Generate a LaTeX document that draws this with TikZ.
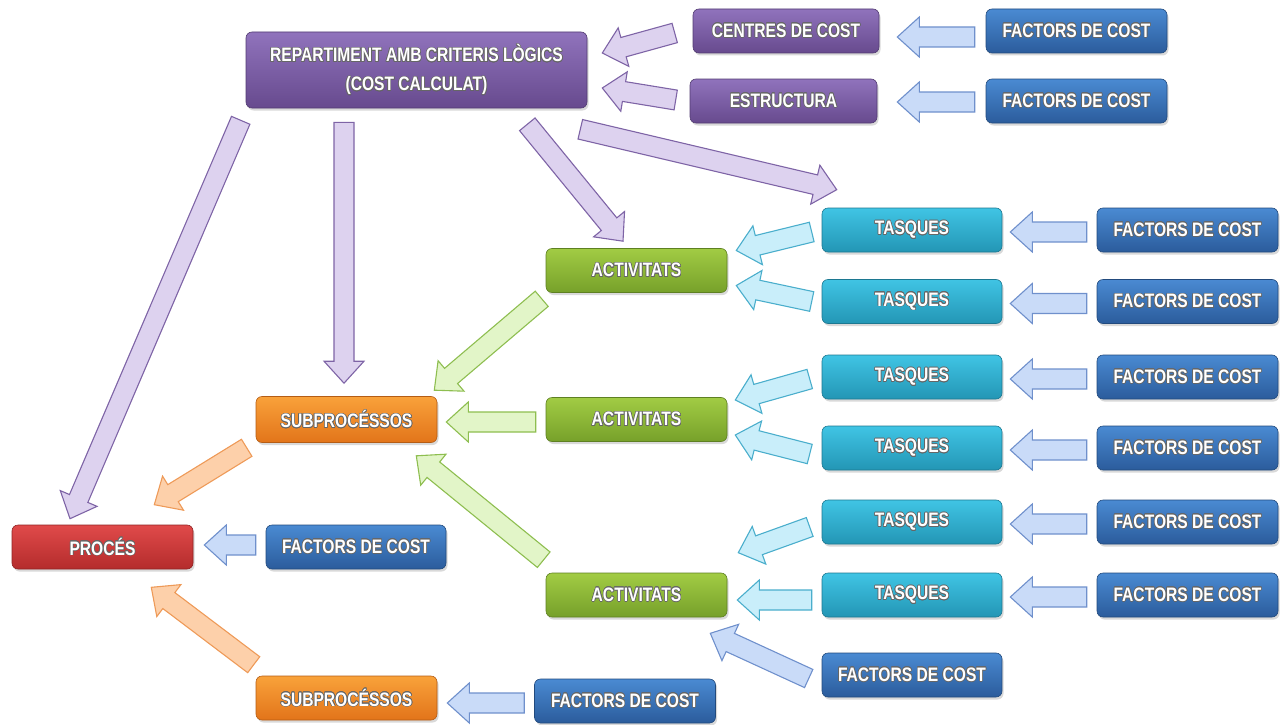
\documentclass[tikz,border=0pt]{standalone}
\usepackage{fontspec}
\setmainfont[FakeStretch=0.8]{Liberation Sans}
\usepackage[copies]{contour}
\contourlength{0.6pt}
\usetikzlibrary{calc,shadows}
\definecolor{purT}{HTML}{9073BC}
\definecolor{purB}{HTML}{674A8E}
\definecolor{bluT}{HTML}{4A8AD2}
\definecolor{bluB}{HTML}{2B5C9C}
\definecolor{cyaT}{HTML}{40C4E4}
\definecolor{cyaB}{HTML}{2396B5}
\definecolor{greT}{HTML}{A2CC44}
\definecolor{greB}{HTML}{76A02A}
\definecolor{oraT}{HTML}{F9A23A}
\definecolor{oraB}{HTML}{E2741A}
\definecolor{redT}{HTML}{E04A4A}
\definecolor{redB}{HTML}{B42C2C}
\definecolor{parF}{HTML}{DDD2EF}
\definecolor{parD}{HTML}{7E64A6}
\definecolor{barF}{HTML}{C9DBF8}
\definecolor{barD}{HTML}{6F90CC}
\definecolor{carF}{HTML}{C9EEFA}
\definecolor{carD}{HTML}{4AAECC}
\definecolor{garF}{HTML}{E2F5C8}
\definecolor{garD}{HTML}{8EBE50}
\definecolor{oarF}{HTML}{FDD0AA}
\definecolor{oarD}{HTML}{EE9A58}
\newcommand\boxfont{\fontsize{19.5}{29}\selectfont\bfseries}
\newcommand\tx[1]{\contour{black!60}{#1}}
\newcommand\barrow[3]{%
  \coordinate (bA) at #2;
  \coordinate (bB) at #3;
  \coordinate (bP) at ($(bB)!22pt!(bA)$);
  \draw[#1] ($(bA)!10pt!90:(bB)$) -- ($(bP)!10pt!90:(bB)$) -- ($(bP)!20pt!90:(bB)$)
    -- (bB) -- ($(bP)!20pt!-90:(bB)$) -- ($(bP)!10pt!-90:(bB)$) -- ($(bA)!10pt!-90:(bB)$) -- cycle;
}
\tikzset{
  box/.style={rectangle, rounded corners=6pt, minimum width=181pt, minimum height=44pt,
    inner sep=0pt, text=white, font=\boxfont, line width=0.6pt,
    drop shadow={shadow xshift=1.5pt, shadow yshift=-2.5pt, opacity=0.3}},
  pbox/.style={box, top color=purT, bottom color=purB, draw=purB!80!black},
  bbox/.style={box, top color=bluT, bottom color=bluB, draw=bluB!80!black},
  cbox/.style={box, top color=cyaT, bottom color=cyaB, draw=cyaB!80!black},
  gbox/.style={box, top color=greT, bottom color=greB, draw=greB!80!black},
  obox/.style={box, top color=oraT, bottom color=oraB, draw=oraB!80!black},
  rbox/.style={box, top color=redT, bottom color=redB, draw=redB!80!black},
  arr/.style={line width=1.1pt, line join=miter},
  parr/.style={arr, fill=parF, draw=parD},
  barr/.style={arr, fill=barF, draw=barD},
  carr/.style={arr, fill=carF, draw=carD},
  garr/.style={arr, fill=garF, draw=garD},
  oarr/.style={arr, fill=oarF, draw=oarD},
}
\begin{document}
\begin{tikzpicture}[x=1pt,y=-1pt]
\useasboundingbox (0,0) rectangle (1282,725);
% top block
\node[pbox, minimum width=341pt, minimum height=76pt, align=center] (rep) at (416.5,70)
  {\tx{REPARTIMENT AMB CRITERIS LÒGICS}\\\tx{(COST CALCULAT)}};
\node[pbox, minimum width=186pt] (cc) at (786,31) {\tx{CENTRES DE COST}};
\node[pbox, minimum width=187pt] (es) at (783.5,101) {\tx{ESTRUCTURA}};
\node[bbox] (ft1) at (1076.5,31) {\tx{FACTORS DE COST}};
\node[bbox] (ft2) at (1076.5,101) {\tx{FACTORS DE COST}};
% task rows
\foreach \i/\y in {1/230,2/301.5,3/377,4/448,5/522,6/595}{
  \node[cbox, minimum width=180pt] (t\i) at (912,\y) {\tx{TASQUES}};
  \node[bbox] (f\i) at (1187.5,\y) {\tx{FACTORS DE COST}};
}
% activities
\node[gbox] (a1) at (636.5,270.5) {\tx{ACTIVITATS}};
\node[gbox] (a2) at (636.5,419.5) {\tx{ACTIVITATS}};
\node[gbox] (a3) at (636.5,595) {\tx{ACTIVITATS}};
\node[bbox, minimum width=180pt] (fa) at (912,675) {\tx{FACTORS DE COST}};
% subprocesses and process
\node[obox, minimum height=46pt] (s1) at (346.5,419.5) {\tx{SUBPROCÉSSOS}};
\node[obox] (s2) at (346.5,698) {\tx{SUBPROCÉSSOS}};
\node[rbox] (p) at (102.5,547) {\tx{PROCÉS}};
\node[bbox, minimum width=180pt] (fp) at (356,547) {\tx{FACTORS DE COST}};
\node[bbox, minimum width=181pt] (fb) at (625,701) {\tx{FACTORS DE COST}};
% arrows top
\barrow{barr}{($(ft1.west)+(-11,6)$)}{($(cc.east)+(18,6)$)}
\barrow{barr}{($(ft2.west)+(-11,1)$)}{($(es.east)+(20,1)$)}
\barrow{parr}{($(cc.west)+(-18,2)$)}{($(rep.east)+(15,-17)$)}
\barrow{parr}{($(es.west)+(-14,-1)$)}{($(rep.east)+(15,18)$)}
\barrow{parr}{($(rep.south west)+(-5,12)$)}{($(p.north)+(-32.5,-6)$)}
\barrow{parr}{($(rep.south)+(-72.5,14)$)}{($(s1.north)+(-2.5,-13)$)}
\barrow{parr}{($(rep.south east)+(-60,16)$)}{($(a1.north)+(-13.5,-7)$)}
\barrow{parr}{($(rep.south east)+(-7,21)$)}{($(t1.north west)+(15,-18)$)}
% factors -> tasks
\foreach \i in {1,...,6}{
  \barrow{barr}{($(f\i.west)+(-10,2)$)}{($(t\i.east)+(8,2)$)}
}
% tasks -> activities
\barrow{carr}{($(t1.west)+(-10,2)$)}{($(a1.east)+(9,-20)$)}
\barrow{carr}{($(t2.west)+(-10,0)$)}{($(a1.east)+(9,15)$)}
\barrow{carr}{($(t3.west)+(-12,2)$)}{($(a2.east)+(8,-19.5)$)}
\barrow{carr}{($(t4.west)+(-12,6)$)}{($(a2.east)+(8,15.5)$)}
\barrow{carr}{($(t5.west)+(-12,5)$)}{($(a3.north east)+(11,-20)$)}
\barrow{carr}{($(t6.west)+(-10,5)$)}{($(a3.east)+(10,5)$)}
\barrow{barr}{($(fa.west)+(-13,3.5)$)}{($(a3.south east)+(-17,16)$)}
% activities -> subprocess
\barrow{garr}{($(a1.south west)+(-4,6)$)}{($(s1.north east)+(-3,-6)$)}
\barrow{garr}{($(a2.west)+(-10,2.5)$)}{($(s1.east)+(9,2.5)$)}
\barrow{garr}{($(a3.north west)+(-2,-13)$)}{($(s1.south east)+(-21,13)$)}
% to process
\barrow{oarr}{($(s1.south west)+(-9,5)$)}{($(p.north east)+(-39,-20)$)}
\barrow{oarr}{($(s2.north west)+(-2,-11)$)}{($(p.south east)+(-42,18)$)}
\barrow{barr}{($(fp.west)+(-10,-2)$)}{($(p.east)+(11,-2)$)}
\barrow{barr}{($(fb.west)+(-10,2)$)}{($(s2.east)+(10,5)$)}
\end{tikzpicture}
\end{document}
